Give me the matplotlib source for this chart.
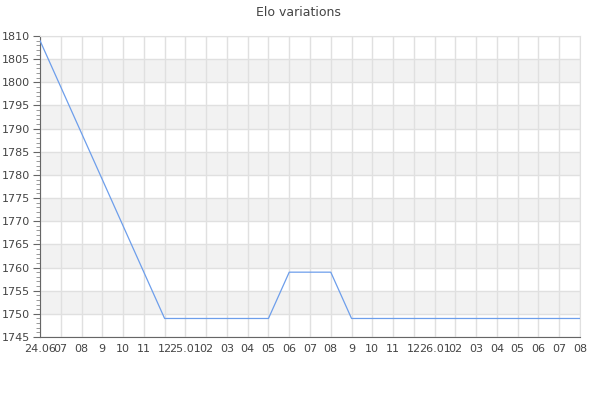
import matplotlib
matplotlib.use("Agg")
import matplotlib.pyplot as plt
from matplotlib.ticker import MultipleLocator

labels = ["24.06", "07", "08", "9", "10", "11", "12", "25.01", "02", "03", "04", "05",
          "06", "07", "08", "9", "10", "11", "12", "26.01", "02", "03", "04", "05",
          "06", "07", "08"]
elo = [1809, 1799, 1789, 1779, 1769, 1759, 1749, 1749, 1749, 1749, 1749, 1749,
       1759, 1759, 1759, 1749, 1749, 1749, 1749, 1749, 1749, 1749, 1749, 1749,
       1749, 1749, 1749]
y_min, y_max = 1745, 1810

fig = plt.figure(figsize=(6, 4), dpi=100)
ax = fig.add_axes([40/600, 1-337/400, 540/600, 301/400])
x = list(range(len(labels)))

for lo in range(1750, 1810, 10):
    ax.axhspan(lo, lo + 5, color="#f2f2f2", zorder=0, lw=0)

ax.plot(x, elo, color="#6d9eeb", lw=0.9, zorder=3)
ax.set_xlim(0, len(labels) - 1)
ax.set_ylim(y_min, y_max)
ax.set_xticks(x)
ax.set_xticklabels(labels)
ax.yaxis.set_major_locator(MultipleLocator(5))
ax.yaxis.set_minor_locator(MultipleLocator(1))
ax.grid(True, which="major", color="#e0e0e0", lw=1, zorder=1)
ax.set_axisbelow(True)

for s in ["top", "right"]:
    ax.spines[s].set_color("#e0e0e0")
for s in ["left", "bottom"]:
    ax.spines[s].set_color("#666666")
ax.tick_params(axis="x", length=0, pad=5, labelsize=8, colors="#444444")
ax.tick_params(axis="y", which="major", length=5, width=0.8, color="#666666",
               labelsize=8, labelcolor="#444444", pad=2)
ax.tick_params(axis="y", which="minor", length=3, width=0.6, color="#888888")

fig.text(0.497, 1-12/400, "Elo variations", ha="center", va="center",
         fontsize=9, color="#444444")
fig.savefig("out.png", dpi=100)
